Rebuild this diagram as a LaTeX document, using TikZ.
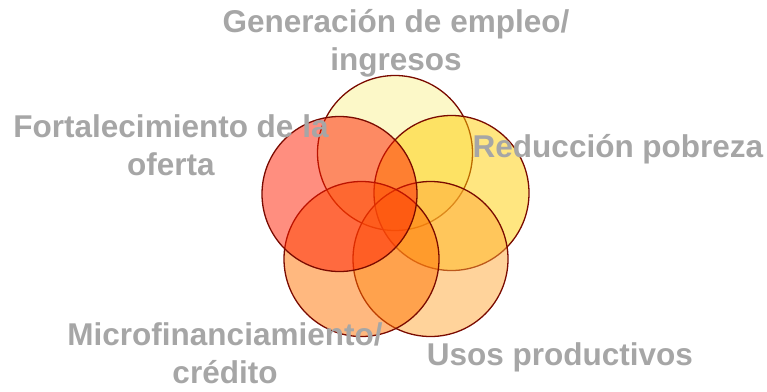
\documentclass[tikz,border=0pt]{standalone}
\usepackage{fontspec}
\setmainfont{Liberation Sans}
\usetikzlibrary{positioning}

\definecolor{ringline}{HTML}{7A0A00}
\definecolor{labelgray}{HTML}{A6A6A6}
\definecolor{cgen}{HTML}{F9F191}
\definecolor{cred}{HTML}{FFCD02}
\definecolor{cusos}{HTML}{FFA737}
\definecolor{cmicro}{HTML}{FF7100}
\definecolor{cfort}{HTML}{FF1D00}

\tikzset{
  ring/.style = {circle, draw=ringline, line width=1.3pt, fill opacity=0.5,
                 draw opacity=1, minimum size=155pt, inner sep=0pt},
  lbl/.style  = {text=labelgray, align=center, inner sep=0pt, anchor=base,
                 font=\fontsize{31.5}{37.5}\selectfont\bfseries}
}

\begin{document}
\begin{tikzpicture}[x=1pt,y=-1pt]
    \useasboundingbox (0,0) rectangle (767,391);

    % circles, clockwise from the top
    \node[ring,fill=cgen]   (gen)   at (395,153) {};
    \node[ring,fill=cred]   (red)   at (451.5,193) {};
    \node[ring,fill=cusos]  (usos)  at (430.5,259) {};
    \node[ring,fill=cmicro] (micro) at (361.5,259) {};
    \node[ring,fill=cfort]  (fort)  at (339.5,194) {};

    % labels (base = last line)
    \node[lbl] (lgen)   at (396,70)  {Generación de empleo/\\ingresos};
    \node[lbl] (lred)   at (618,157) {Reducción pobreza};
    \node[lbl] (lusos)  at (560,365) {Usos productivos};
    \node[lbl] (lmicro) at (225,383) {Microfinanciamiento/\\crédito};
    \node[lbl] (lfort)  at (171,175) {Fortalecimiento de la\\oferta};
\end{tikzpicture}
\end{document}
